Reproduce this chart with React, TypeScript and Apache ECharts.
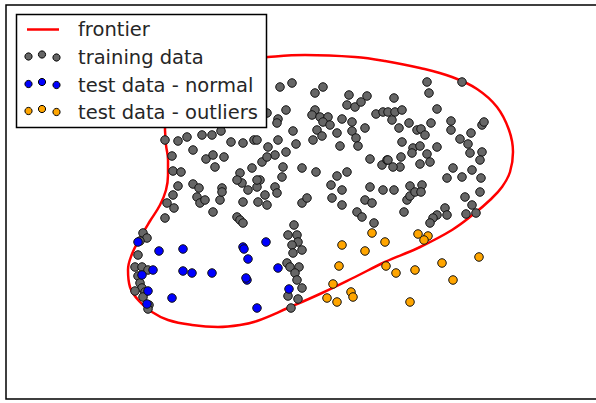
import React, { useEffect, useRef } from "react";
import * as echarts from "echarts";

// Values are read in the plot's own coordinates (x to the right, y downward).
const trainingData: number[][] = [
  [165,140],[178,141],[187,137],[172,156],[173,171],[181,172],[178,186],[173,195],[167,203],[174,208],[165,218],
  [143,233],[147,238],[140,241],[138,255],[135,267],[142,267],[148,270],[138,276],[140,283],[142,288],[135,291],[145,292],[143,297],[149,305],[148,309],
  [193,150],[202,135],[212,135],[221,131],[231,142],[243,143],[254,140],[206,159],[213,155],[224,157],[215,167],[240,173],[252,168],[193,184],[199,188],[222,188],[242,183],[237,180],[260,180],[257,187],[248,190],[197,197],[200,203],[205,200],[220,200],[222,192],[213,212],[237,217],[240,220],[243,223],[243,202],
  [280,87],[292,83],[315,93],[323,87],[349,95],[347,105],[355,107],[361,102],[367,96],[376,114],[383,112],[267,113],[286,110],[278,119],[277,123],[315,110],[312,115],[320,117],[328,117],[323,122],[330,125],[317,130],[322,136],[337,133],[342,119],[352,122],[352,131],[356,138],[358,146],[365,128],[340,146],[293,131],[257,140],[278,140],[296,144],[268,147],[275,155],[286,152],[262,162],[283,167],[282,177],[302,168],[316,172],[337,176],[347,172],[331,185],[370,159],[382,165],[370,187],[275,187],[257,180],[313,140],[267,157],[342,190],[383,190],[394,190],[387,160],
  [277,193],[265,195],[267,205],[258,202],[302,203],[307,198],[332,198],[342,205],[357,212],[362,217],[365,200],[372,203],[374,223],
  [294,225],[288,235],[297,235],[298,242],[292,245],[302,250],[293,253],[287,263],[290,267],[299,267],[295,273],[297,280],[302,288],[288,296],[298,299],[291,308],
  [427,82],[429,93],[462,82],[394,98],[388,112],[395,112],[402,110],[392,120],[399,128],[409,123],[417,130],[421,129],[425,135],[431,123],[437,109],[451,121],[451,130],[460,139],[468,144],[471,133],[470,153],[482,125],[484,122],[482,152],[480,160],[402,142],[413,148],[420,146],[412,153],[427,154],[437,147],[430,162],[420,164],[388,160],[401,157],[400,167],[393,167],[453,168],[472,170],[447,178],[462,177],[481,178],[410,186],[422,185],[480,192],[472,205],[466,214],[476,213],[445,208],[437,215],[433,218],[430,223],[465,197],[407,200],[410,196],[404,212],[447,215],[415,192],[421,192]
];

const testNormal: number[][] = [
  [138,242],[159,251],[183,249],[153,270],[142,275],[183,271],[192,273],[212,273],[148,291],[172,298],[147,304],
  [243,247],[244,249],[248,259],[247,280],[246,278],[257,308],[266,242],[278,268],[289,289]
];

const testOutliers: number[][] = [
  [372,233],[342,245],[365,251],[385,242],[418,234],[428,236],[424,240],[339,266],[386,266],[396,273],
  [415,270],[442,263],[479,257],[453,280],[333,284],[351,292],[353,297],[327,298],[337,302],[410,302]
];

const frontier: number[][] = [
  [165,130],[166,145],[168,160],[168,175],[166,190],[160,205],[150,221],[140,238],[132,254],[128,270],
  [130,287],[139,301],[152,312],[168,320],[192,325],[218,327],[240,325],[257,321],[288,308],[322,293],
  [355,277],[385,262],[418,248],[452,230],[475,213],[490,200],[502,187],[510,172],[513,152],[509,130],
  [497,107],[477,89],[452,77],[420,68],[385,61],[355,57],[305,55],[268,57],[240,60],[210,67],
  [187,78],[172,95],[166,112],[165,130]
];

const legendLabels = ["frontier", "training data", "test data - normal", "test data - outliers"];
const legendColors = ["#ff0000", "#666666", "#0000ff", "#ffa500"];

export default function App() {
  const ref = useRef<HTMLDivElement>(null);
  useEffect(() => {
    document.body.style.margin = "0";
    const chart = echarts.init(ref.current!, null, { renderer: "svg" });
    const rowY = [29.5, 57.5, 85, 112];
    const graphics: any[] = [
      {
        type: "rect",
        z: 100,
        shape: { x: 16.5, y: 14.5, width: 250, height: 113 },
        style: { fill: "#ffffff", stroke: "#000000", lineWidth: 1.5 },
      },
      {
        type: "line",
        z: 101,
        shape: { x1: 27, y1: rowY[0], x2: 59, y2: rowY[0] },
        style: { stroke: legendColors[0], lineWidth: 2.5 },
      },
    ];
    const dotDx = [28.5, 42, 56.5];
    const dotDy = [0, -2, 1];
    for (let r = 1; r < 4; r++) {
      for (let k = 0; k < 3; k++) {
        graphics.push({
          type: "circle",
          z: 101,
          shape: { cx: dotDx[k], cy: rowY[r] + dotDy[k] - 1, r: 3.6 },
          style: { fill: legendColors[r], stroke: "#000000", lineWidth: 1 },
        });
      }
    }
    legendLabels.forEach((t, i) => {
      graphics.push({
        type: "text",
        z: 101,
        x: 78,
        y: rowY[i],
        style: {
          text: t,
          fontSize: 19.5,
          fontFamily: "DejaVu Sans",
          fill: "#262626",
          verticalAlign: "middle",
          align: "left",
        },
      });
    });

    const pointStyle = (c: string) => ({ color: c, borderColor: "#111111", borderWidth: 1, opacity: 1 });

    chart.setOption({
      animation: false,
      grid: {
        left: 6,
        top: 5,
        width: 600,
        height: 394,
        outerBoundsMode: "none",
        containLabel: false,
        show: true,
        borderColor: "#000000",
        borderWidth: 1.5,
        backgroundColor: "#ffffff",
      },
      xAxis: { type: "value", min: 6, max: 606, show: false },
      yAxis: { type: "value", min: 5, max: 399, inverse: true, show: false },
      series: [
        {
          type: "line",
          data: frontier,
          smooth: 0.4,
          symbol: "none",
          lineStyle: { color: "#ff0000", width: 2.5 },
          z: 1,
          silent: true,
        },
        {
          type: "scatter",
          data: trainingData,
          symbolSize: 8.5,
          itemStyle: pointStyle(legendColors[1]),
          z: 2,
        },
        {
          type: "scatter",
          data: testNormal,
          symbolSize: 8.5,
          itemStyle: pointStyle(legendColors[2]),
          z: 3,
        },
        {
          type: "scatter",
          data: testOutliers,
          symbolSize: 8.5,
          itemStyle: pointStyle(legendColors[3]),
          z: 3,
        },
      ],
      graphic: graphics,
    });
    return () => chart.dispose();
  }, []);
  return (
    <div
      ref={ref}
      style={{ position: "absolute", left: 0, top: 0, width: 596, height: 403, background: "#ffffff" }}
    />
  );
}
